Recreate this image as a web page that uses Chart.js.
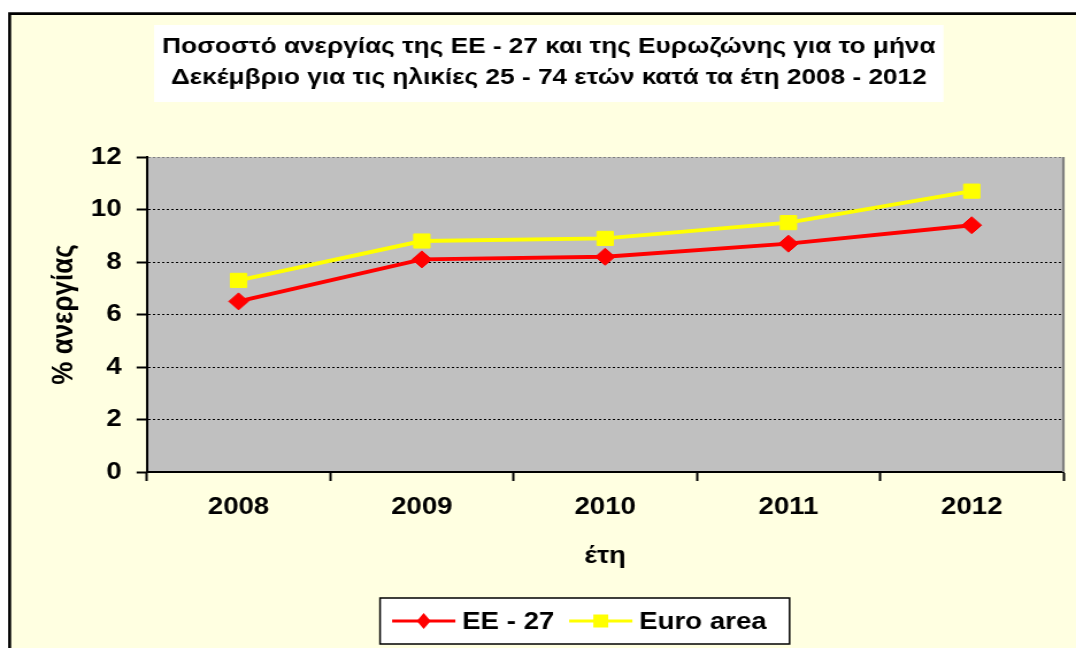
<!DOCTYPE html>
<html><head><meta charset="utf-8">
<script src="https://cdn.jsdelivr.net/npm/chart.js@4/dist/chart.umd.min.js"></script>
<style>
html,body{margin:0;padding:0;background:#fff;overflow:hidden;width:1076px;height:648px}
#wrap{position:absolute;left:0;top:0;width:936px;height:648px;transform:scaleX(1.1496);transform-origin:0 0}
</style></head><body>
<div id="wrap"><canvas id="c"></canvas></div>
<script>
// ---- data ----
const years = ['2008', '2009', '2010', '2011', '2012'];
const ee27 = [6.5, 8.1, 8.2, 8.7, 9.4];
const euroArea = [7.3, 8.8, 8.9, 9.5, 10.7];
const yTicks = [0, 2, 4, 6, 8, 10, 12];
const seriesNames = ['EE - 27', 'Euro area'];
const titleLines = [
  'Ποσοστό ανεργίας της ΕΕ - 27 και της Ευρωζώνης για το μήνα',
  'Δεκέμβριο για τις ηλικίες 25 - 74 ετών κατά τα έτη 2008 - 2012'
];
const xTitle = 'έτη';
const yTitle = '% ανεργίας';

const FAM = '"Liberation Sans", Arial, Helvetica, sans-serif';
Chart.defaults.font.family = FAM;
Chart.defaults.color = '#000';

const framePlugin = {
  id: 'frame',
  beforeDraw(chart) {
    const ctx = chart.ctx, w = chart.width, h = chart.height, a = chart.chartArea;
    ctx.save();
    ctx.fillStyle = '#ffffff';
    ctx.fillRect(0, 0, w, h);
    ctx.fillStyle = '#FFFFE1';
    ctx.fillRect(8, 13, w, h);
    ctx.strokeStyle = '#000';
    ctx.lineWidth = 2.6;
    ctx.beginPath();
    ctx.moveTo(8.4, h + 5);
    ctx.lineTo(8.4, 13.6);
    ctx.lineTo(w + 5, 13.6);
    ctx.stroke();
    // plot area
    ctx.fillStyle = '#C0C0C0';
    ctx.fillRect(a.left, a.top, a.right - a.left, a.bottom - a.top);
    // title
    let fs = 20;
    ctx.font = 'bold ' + fs + 'px ' + FAM;
    const w1 = ctx.measureText(titleLines[0]).width;
    fs = fs * 673 / w1;
    ctx.font = 'bold ' + fs.toFixed(2) + 'px ' + FAM;
    const tw = Math.max(...titleLines.map(t => ctx.measureText(t).width));
    const cx = 477.4;
    ctx.fillStyle = '#fff';
    ctx.fillRect(cx - tw / 2 - 7, 25, tw + 14, 77);
    ctx.fillStyle = '#000';
    ctx.textAlign = 'center';
    ctx.textBaseline = 'middle';
    ctx.fillText(titleLines[0], cx, 47);
    ctx.fillText(titleLines[1], cx, 78);
    ctx.restore();
  },
  afterDraw(chart) {
    const ctx = chart.ctx, a = chart.chartArea;
    ctx.save();
    // right border of plot area
    ctx.strokeStyle = '#808080';
    ctx.lineWidth = 2.2;
    ctx.beginPath();
    ctx.moveTo(a.right, a.top);
    ctx.lineTo(a.right, a.bottom);
    ctx.stroke();
    // legend
    const ds = chart.data.datasets;
    ctx.font = 'bold 24px ' + FAM;
    const lineLen = 55, gapLT = 6, gapItem = 13, padL = 10.5, padR = 20;
    const widths = ds.map(d => ctx.measureText(d.label).width);
    const content = widths.reduce((s, tw) => s + lineLen + gapLT + tw, 0) + gapItem * (ds.length - 1);
    const boxW = padL + content + padR;
    const left = 508.7 - boxW / 2, top = 598, bh = 46;
    ctx.fillStyle = '#fff';
    ctx.fillRect(left, top, boxW, bh);
    ctx.strokeStyle = '#000';
    ctx.lineWidth = 1.5;
    ctx.strokeRect(left, top, boxW, bh);
    let x = left + padL;
    const y = top + bh / 2;
    ds.forEach((d, i) => {
      ctx.strokeStyle = d.borderColor;
      ctx.lineWidth = 3;
      ctx.beginPath();
      ctx.moveTo(x, y);
      ctx.lineTo(x + lineLen, y);
      ctx.stroke();
      const mx = x + lineLen / 2;
      ctx.fillStyle = d.pointBackgroundColor;
      ctx.beginPath();
      if (d.pointStyle === 'rectRot') {
        ctx.moveTo(mx, y - 8); ctx.lineTo(mx + 6, y); ctx.lineTo(mx, y + 8); ctx.lineTo(mx - 6, y);
      } else {
        ctx.rect(mx - 6.5, y - 6.5, 13, 13);
      }
      ctx.closePath();
      ctx.fill();
      ctx.fillStyle = '#000';
      ctx.textAlign = 'left';
      ctx.textBaseline = 'middle';
      ctx.fillText(d.label, x + lineLen + gapLT, y + 1);
      x += lineLen + gapLT + widths[i] + gapItem;
    });
    ctx.restore();
  }
};

new Chart(document.getElementById('c'), {
  type: 'line',
  data: {
    labels: years,
    datasets: [
      {
        label: seriesNames[0], data: ee27,
        borderColor: '#FF0000', backgroundColor: '#FF0000', borderWidth: 4,
        pointStyle: 'rectRot', pointRadius: 8.5, pointBorderWidth: 1,
        pointBackgroundColor: '#FF0000', pointBorderColor: '#FF0000', tension: 0
      },
      {
        label: seriesNames[1], data: euroArea,
        borderColor: '#FFFF00', backgroundColor: '#FFFF00', borderWidth: 4,
        pointStyle: 'rect', pointRadius: 10, pointBorderWidth: 1,
        pointBackgroundColor: '#FFFF00', pointBorderColor: '#FFFF00', tension: 0
      }
    ]
  },
  options: {
    responsive: true,
    maintainAspectRatio: false,
    animation: false,
    devicePixelRatio: 1,
    layout: { padding: { left: 0, right: 6, top: 157, bottom: 0 } },
    plugins: { legend: { display: false }, title: { display: false }, tooltip: { enabled: false } },
    scales: {
      x: {
        type: 'category', offset: true,
        grid: { offset: true, drawOnChartArea: false, drawTicks: true, tickLength: 9, tickColor: '#000', tickWidth: 2, color: '#000' },
        border: { display: true, color: '#000', width: 2 },
        ticks: { color: '#000', font: { size: 24, weight: 'bold' }, padding: 12, maxRotation: 0, autoSkip: false },
        title: { display: true, text: xTitle, color: '#000', font: { size: 24, weight: 'bold' }, padding: { top: 0, bottom: 77 } },
        afterFit(s) { s.height = 176; }
      },
      y: {
        min: 0, max: 12,
        afterBuildTicks(s) { s.ticks = yTicks.map(v => ({ value: v })); },
        grid: {
          color: c => (c.tick && c.tick.value === 12) ? '#808080' : '#000',
          lineWidth: 1, drawTicks: true, tickLength: 9, tickColor: '#000', tickWidth: 2, tickBorderDash: []
        },
        border: { display: true, color: '#000', width: 2, dash: [2, 2] },
        ticks: { color: '#000', font: { size: 24, weight: 'bold' }, padding: 13 },
        title: { display: true, text: yTitle, color: '#000', font: { size: 26, weight: 'bold' }, padding: { top: 40, bottom: 0 } },
        afterFit(s) { s.width = 127.8; }
      }
    }
  },
  plugins: [framePlugin]
});
</script>
</body></html>
